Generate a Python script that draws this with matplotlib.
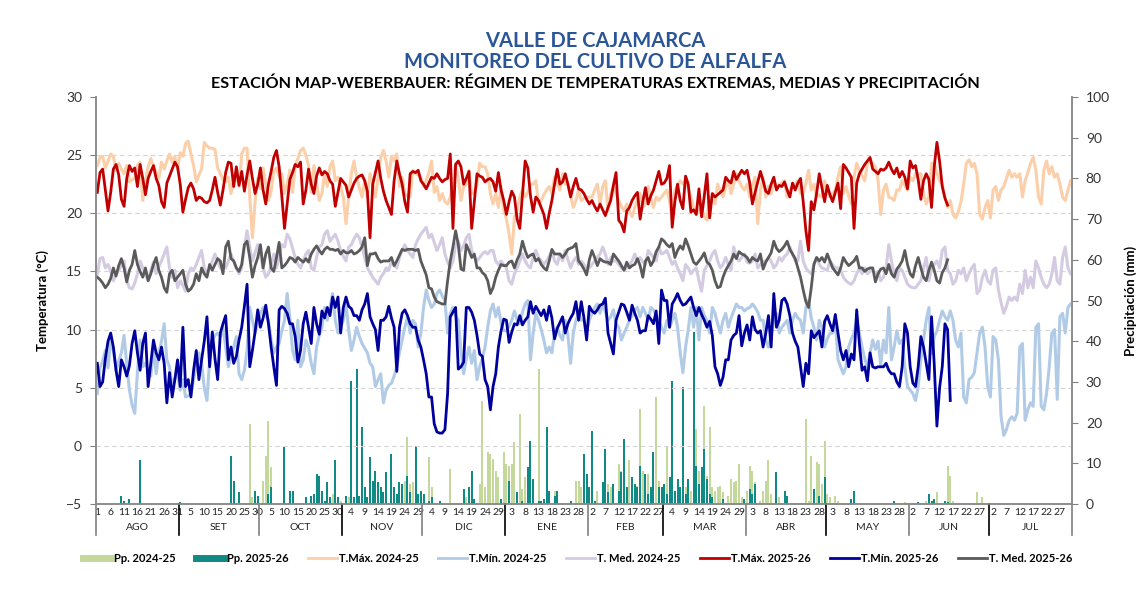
import matplotlib
matplotlib.use("Agg")
import matplotlib.pyplot as plt
import matplotlib.transforms as mtransforms
from matplotlib.lines import Line2D

plt.rcParams["font.family"] = ["Lato", "DejaVu Sans"]

months = ["AGO", "SET", "OCT", "NOV", "DIC", "ENE", "FEB", "MAR", "ABR", "MAY", "JUN", "JUL"]
month_days = [31, 30, 31, 30, 31, 31, 28, 31, 30, 31, 30, 31]

# daily values, 1 Aug -> 31 Jul
tmax_2425 = [
    24.1, 24.8, 24.9, 23.9, 24.5, 25.1, 24.9, 23.7, 24.3, 23.8, 23.4, 24.1, 22.7, 22.9, 23.0, 24.1, 24.4, 21.1, 22.7, 24.0, 24.7, 24.1, 23.5, 23.0, 24.4, 23.8, 24.5, 25.1, 24.4, 24.9, 23.8,
    25.2, 24.9, 26.0, 26.2, 25.1, 24.1, 22.7, 23.3, 23.8, 26.1, 25.8, 25.6, 25.6, 25.5, 23.9, 23.4, 22.9, 22.7, 23.1, 21.7, 22.9, 23.4, 22.3, 25.1, 25.6, 25.6, 21.5, 17.9, 21.0, 23.0,
    22.1, 23.9, 22.5, 21.1, 21.9, 23.6, 23.9, 23.1, 23.4, 21.7, 22.5, 23.7, 21.8, 24.1, 24.7, 25.4, 25.6, 25.0, 24.1, 21.8, 24.1, 22.5, 21.1, 21.7, 23.4, 22.3, 24.0, 24.5, 22.8, 23.1, 22.3,
    21.4, 19.1, 21.4, 23.4, 24.5, 23.1, 22.2, 21.4, 22.8, 21.4, 23.4, 22.5, 21.4, 23.1, 24.8, 25.4, 24.5, 23.1, 24.9, 24.5, 25.1, 22.3, 23.1, 21.7, 21.5, 21.4, 23.7, 23.4, 23.3, 23.1,
    22.3, 22.8, 23.5, 24.5, 21.8, 22.3, 21.1, 21.7, 21.0, 20.8, 21.4, 22.3, 24.3, 23.0, 21.1, 22.3, 22.5, 23.7, 21.7, 21.7, 22.5, 24.3, 24.0, 24.0, 23.4, 21.7, 20.8, 21.7, 20.5, 22.3, 20.3,
    19.5, 18.2, 16.5, 19.7, 20.3, 21.4, 22.0, 21.4, 21.8, 22.5, 22.5, 22.8, 20.8, 21.1, 21.6, 22.0, 22.3, 21.7, 23.1, 22.5, 22.0, 23.4, 22.5, 22.5, 21.5, 20.5, 21.1, 22.0, 21.1, 21.3, 21.4,
    21.4, 21.4, 22.0, 22.5, 20.8, 22.3, 22.8, 20.2, 21.7, 22.3, 21.7, 21.1, 20.6, 20.2, 20.8, 20.2, 19.7, 20.5, 21.2, 21.7, 20.5, 20.8, 22.3, 21.3, 20.5, 21.4, 21.1, 21.4,
    21.7, 22.0, 21.1, 19.4, 22.0, 22.4, 22.8, 22.5, 22.9, 22.2, 21.4, 20.5, 19.9, 20.2, 20.5, 19.7, 19.4, 21.4, 21.1, 20.8, 22.5, 22.0, 21.4, 22.2, 22.8, 21.7, 22.5, 23.4, 22.8, 22.3, 22.0,
    22.5, 21.4, 22.3, 23.1, 19.1, 22.0, 23.1, 21.4, 22.3, 21.7, 22.5, 22.3, 22.5, 22.6, 22.8, 21.4, 22.0, 22.3, 22.5, 22.8, 21.7, 21.7, 22.6, 23.7, 22.0, 22.5, 21.4, 21.6, 21.4, 22.8,
    22.0, 21.4, 21.7, 22.0, 23.1, 24.0, 21.7, 22.3, 21.5, 20.8, 23.1, 24.3, 23.7, 23.2, 22.8, 24.3, 24.5, 24.3, 24.0, 22.8, 19.9, 22.0, 22.5, 21.4, 21.3, 21.1, 22.0, 22.0, 22.8, 22.4, 22.0,
    23.1, 22.8, 23.4, 23.4, 23.4, 21.7, 20.8, 21.4, 24.3, 24.3, 23.5, 22.8, 22.5, 21.4, 20.5, 21.1, 19.9, 19.6, 20.1, 21.0, 22.5, 24.3, 24.6, 24.0, 24.3, 23.4, 19.9, 19.5, 20.5, 21.1,
    19.6, 22.0, 22.3, 21.1, 22.0, 22.3, 23.0, 23.7, 23.1, 23.4, 23.1, 23.4, 21.4, 22.8, 23.5, 24.3, 24.8, 23.7, 21.4, 20.8, 23.7, 24.5, 23.4, 24.0, 23.1, 23.4, 22.5, 21.4, 21.1, 22.0, 22.8,
]
tmin_2425 = [
    4.5, 6.7, 7.3, 8.2, 6.7, 9.1, 8.2, 6.5, 7.3, 8.0, 9.5, 7.0, 4.8, 3.5, 2.8, 6.3, 9.1, 6.8, 7.1, 6.5, 6.0, 8.5, 6.2, 8.0, 9.0, 10.5, 7.4, 6.8, 5.1, 5.8, 6.2,
    4.8, 5.7, 4.2, 4.3, 4.5, 5.7, 6.8, 8.0, 7.1, 5.0, 3.9, 7.4, 9.1, 9.5, 9.7, 9.4, 10.2, 8.5, 6.8, 7.6, 8.5, 9.4, 6.2, 5.7, 6.5, 8.2, 11.9, 10.8, 9.7, 10.5,
    11.4, 11.9, 11.2, 10.8, 9.1, 8.0, 8.5, 8.8, 9.9, 10.8, 13.1, 11.0, 8.2, 7.4, 10.8, 6.8, 7.4, 9.1, 8.5, 7.1, 6.2, 8.5, 9.5, 10.2, 11.9, 10.8, 11.9, 13.1, 10.8, 9.7, 10.2,
    10.8, 12.2, 10.0, 8.2, 9.1, 10.2, 9.4, 8.8, 8.4, 8.0, 7.1, 6.8, 5.1, 5.7, 6.2, 3.7, 4.8, 5.2, 5.4, 6.0, 6.8, 8.0, 9.1, 10.2, 11.1, 9.7, 10.8, 10.5, 8.5, 9.7,
    11.9, 13.4, 12.5, 11.9, 12.2, 13.1, 13.4, 12.9, 12.5, 9.7, 11.4, 11.9, 11.2, 10.8, 8.2, 6.2, 7.5, 8.5, 7.1, 8.2, 5.7, 6.8, 7.5, 8.5, 10.2, 11.6, 12.2, 11.1, 11.9, 10.5, 9.9,
    9.9, 10.3, 10.8, 11.6, 10.8, 10.5, 11.5, 12.2, 12.5, 7.4, 9.7, 11.4, 10.8, 10.0, 9.1, 8.0, 8.5, 8.0, 9.7, 10.2, 9.5, 9.1, 10.8, 9.5, 7.1, 9.7, 10.8, 11.4, 10.8, 10.8, 9.9,
    10.8, 11.4, 11.9, 12.2, 11.4, 12.2, 11.5, 10.8, 11.1, 11.7, 10.5, 10.2, 9.1, 9.7, 10.2, 10.8, 11.2, 11.7, 11.9, 11.1, 11.9, 11.4, 10.8, 11.9, 11.7, 11.2, 10.8, 10.2,
    9.7, 10.8, 10.2, 10.8, 11.4, 10.2, 8.0, 6.3, 8.5, 10.0, 11.9, 10.2, 11.9, 9.1, 11.9, 11.2, 10.8, 9.7, 11.9, 11.4, 10.5, 9.7, 10.8, 11.4, 10.2, 11.0, 11.6, 12.2, 11.9, 11.9, 11.6,
    11.8, 11.9, 12.2, 11.9, 11.5, 10.8, 10.8, 9.1, 8.5, 9.5, 10.8, 11.4, 9.7, 10.2, 10.5, 10.8, 9.7, 10.8, 11.4, 11.0, 10.8, 9.7, 11.9, 12.5, 11.0, 10.2, 9.1, 10.8, 10.2, 8.5,
    9.2, 9.7, 9.7, 10.8, 7.4, 6.8, 6.2, 6.8, 8.5, 9.2, 9.7, 10.8, 9.7, 8.5, 7.5, 6.8, 8.0, 9.1, 8.3, 9.0, 7.0, 9.1, 8.0, 11.9, 7.4, 8.5, 9.9, 8.8, 9.1, 6.8, 5.1,
    4.8, 4.5, 3.9, 5.1, 7.5, 9.1, 10.8, 11.9, 7.9, 9.4, 9.9, 10.8, 11.6, 11.1, 10.8, 11.6, 10.8, 9.1, 8.5, 9.7, 4.2, 3.7, 5.7, 5.9, 6.3, 8.0, 9.7, 10.2, 8.5, 5.1,
    4.2, 9.4, 9.1, 7.4, 2.5, 0.9, 1.4, 2.2, 2.5, 2.2, 2.8, 8.5, 8.8, 2.2, 3.1, 3.7, 3.4, 10.2, 10.5, 3.4, 3.1, 4.5, 6.8, 9.7, 10.0, 4.0, 11.1, 11.4, 9.7, 11.9, 12.2,
]
tmed_2425 = [
    14.8, 16.1, 16.2, 15.3, 15.6, 15.0, 14.2, 14.8, 15.1, 15.5, 15.9, 14.2, 13.6, 13.5, 14.0, 14.8, 15.9, 15.3, 14.8, 14.2, 15.1, 15.8, 14.8, 15.4, 15.9, 16.5, 17.1, 15.3, 14.5, 15.1, 13.6,
    14.2, 13.8, 13.3, 14.8, 15.3, 15.1, 15.6, 16.2, 16.8, 15.3, 14.8, 15.2, 15.9, 16.5, 15.9, 15.3, 15.3, 15.3, 15.9, 16.5, 15.9, 15.3, 14.8, 15.3, 17.1, 18.5, 17.1, 15.9, 16.6, 17.3,
    16.5, 15.3, 14.5, 14.8, 15.5, 16.5, 15.3, 16.3, 17.3, 17.1, 18.2, 17.8, 17.0, 16.2, 15.6, 15.3, 15.9, 16.5, 16.8, 15.3, 15.1, 16.2, 17.1, 17.3, 18.2, 18.5, 17.6, 17.9, 18.2, 17.6, 16.8,
    16.3, 15.9, 17.1, 17.3, 17.8, 18.2, 17.9, 17.1, 16.2, 15.3, 14.9, 14.5, 14.2, 13.9, 14.5, 14.8, 15.3, 15.1, 15.9, 15.5, 15.3, 16.2, 16.8, 17.3, 16.8, 16.5, 16.2, 17.3, 17.8, 18.2,
    18.5, 18.8, 17.9, 18.2, 17.5, 16.8, 17.3, 17.9, 16.5, 15.8, 15.3, 15.9, 17.3, 17.6, 16.8, 17.2, 17.9, 18.2, 16.8, 16.2, 15.9, 16.2, 16.5, 16.7, 16.5, 16.8, 16.8, 15.9, 15.6, 15.9, 15.6,
    15.3, 14.2, 13.9, 14.8, 15.3, 15.9, 16.5, 15.9, 15.5, 15.3, 16.2, 16.8, 16.2, 15.9, 15.6, 15.9, 16.3, 16.8, 15.9, 15.6, 16.5, 15.9, 16.8, 16.0, 15.3, 15.9, 16.2, 15.6, 15.9, 15.6, 15.3,
    15.3, 15.6, 15.9, 16.2, 16.5, 17.1, 16.5, 15.6, 16.2, 15.9, 15.9, 15.6, 15.3, 15.1, 15.3, 15.6, 15.9, 16.5, 15.9, 16.2, 15.8, 15.6, 16.8, 16.5, 16.2, 15.9, 17.1, 16.5,
    16.6, 16.8, 16.2, 15.6, 15.9, 15.3, 14.8, 14.2, 15.6, 15.3, 14.8, 15.1, 15.3, 14.2, 13.3, 15.1, 15.5, 15.9, 16.5, 16.8, 15.9, 15.3, 15.6, 16.2, 15.6, 15.1, 17.1, 16.2, 15.9, 16.2, 16.5,
    15.8, 15.7, 15.9, 16.5, 15.3, 15.6, 15.9, 15.9, 16.2, 15.9, 15.3, 15.6, 16.2, 15.9, 16.3, 16.5, 17.1, 16.5, 15.9, 15.9, 17.6, 15.9, 15.3, 15.0, 14.8, 15.6, 16.2, 15.6, 15.3, 15.2,
    15.1, 15.9, 15.6, 15.3, 15.3, 15.1, 14.5, 14.2, 14.0, 13.9, 14.2, 14.8, 15.3, 14.8, 15.3, 14.8, 15.0, 15.1, 14.8, 15.0, 14.2, 14.5, 15.3, 17.3, 15.9, 14.8, 14.2, 15.3, 15.1, 14.5, 13.9,
    13.7, 13.6, 13.6, 13.9, 14.2, 15.3, 16.2, 14.2, 15.3, 15.6, 15.9, 15.3, 16.8, 17.1, 15.1, 14.8, 13.9, 14.2, 15.1, 14.8, 15.3, 14.2, 14.8, 15.3, 15.6, 13.1, 13.4, 14.5, 15.1, 14.2,
    13.9, 15.1, 15.3, 13.4, 12.3, 11.4, 12.0, 12.8, 12.5, 12.8, 12.5, 13.9, 13.1, 15.1, 13.6, 14.5, 13.6, 15.9, 15.3, 14.5, 13.9, 13.6, 13.9, 14.8, 16.2, 14.2, 13.9, 16.2, 17.1, 15.3, 14.8,
]
tmax_2526 = [
    21.8, 23.5, 23.8, 22.0, 20.2, 21.8, 23.8, 24.2, 23.3, 21.2, 20.6, 23.0, 24.1, 23.6, 23.9, 22.3, 24.2, 23.0, 21.6, 23.0, 23.6, 24.1, 23.0, 22.4, 21.0, 20.5, 22.6, 23.2, 23.8, 24.4, 24.0,
    22.5, 20.1, 21.2, 22.2, 22.6, 22.1, 21.1, 21.4, 21.3, 21.0, 20.9, 21.1, 22.0, 23.1, 21.8, 20.7, 22.0, 23.5, 24.4, 24.3, 22.3, 24.0, 22.4, 23.6, 21.9, 23.3, 24.5, 23.0, 21.7, 22.5,
    23.9, 22.0, 20.8, 22.5, 23.6, 24.8, 25.4, 24.0, 21.5, 18.7, 20.8, 22.9, 23.5, 24.2, 24.0, 24.4, 20.8, 22.0, 23.8, 22.5, 21.7, 23.2, 23.9, 23.3, 23.6, 23.4, 22.8, 22.5, 20.6, 21.8, 23.0,
    22.7, 22.4, 21.4, 22.0, 22.6, 23.0, 23.2, 23.3, 22.8, 21.9, 17.9, 22.5, 23.5, 24.5, 23.0, 21.9, 21.1, 20.5, 19.9, 22.8, 24.5, 23.4, 22.5, 21.0, 20.1, 23.4, 23.6, 23.5, 23.7, 22.8,
    22.5, 22.1, 22.6, 23.1, 23.0, 23.4, 23.0, 22.7, 22.9, 23.0, 25.1, 18.7, 24.2, 24.5, 24.0, 22.5, 23.0, 23.6, 18.7, 21.0, 23.4, 23.2, 23.1, 22.7, 22.9, 23.0, 22.7, 21.9, 23.5, 22.0, 21.1,
    19.9, 21.0, 21.9, 21.4, 19.5, 18.7, 21.6, 24.5, 23.9, 21.5, 20.1, 21.4, 21.1, 20.5, 19.9, 18.7, 20.0, 21.1, 22.5, 23.8, 22.5, 22.7, 23.4, 22.5, 21.4, 22.3, 23.0, 22.1, 22.0, 21.7, 21.2,
    20.8, 21.1, 20.6, 20.2, 20.8, 20.3, 19.8, 20.5, 21.1, 22.4, 23.5, 19.4, 19.1, 18.4, 20.2, 20.5, 21.1, 21.5, 21.8, 19.5, 21.0, 22.2, 20.8, 21.5, 22.0, 22.8, 23.6, 22.5,
    22.6, 23.0, 24.1, 18.8, 21.0, 22.5, 21.1, 20.4, 23.2, 22.5, 20.1, 20.3, 19.9, 22.1, 19.7, 21.5, 23.4, 19.6, 21.7, 21.4, 21.6, 21.8, 22.0, 23.1, 22.8, 22.6, 23.6, 22.9, 23.3, 23.7, 23.4,
    23.7, 22.6, 20.8, 21.8, 22.7, 23.6, 22.8, 21.9, 21.7, 22.5, 23.1, 22.0, 22.4, 22.3, 22.7, 22.0, 21.4, 22.6, 22.0, 22.6, 23.0, 21.0, 18.5, 16.8, 21.0, 20.3, 21.7, 23.4, 22.2, 21.0,
    22.4, 21.6, 21.0, 21.8, 22.6, 20.4, 24.2, 23.9, 23.5, 23.1, 18.7, 22.6, 23.4, 23.8, 24.2, 24.5, 24.8, 23.8, 23.6, 23.4, 23.8, 23.7, 23.9, 24.4, 23.8, 23.4, 23.9, 23.1, 23.6, 23.1, 22.1,
    24.5, 23.9, 24.1, 22.9, 21.2, 22.8, 23.4, 22.9, 20.5, 24.0, 26.1, 24.5, 22.3, 21.3, 20.7,
]
tmin_2526 = [
    7.1, 5.1, 5.5, 7.5, 9.0, 9.7, 8.5, 6.5, 5.1, 7.4, 6.8, 6.0, 6.9, 8.8, 9.9, 8.0, 6.5, 8.8, 9.7, 5.1, 7.1, 9.1, 8.0, 7.4, 8.5, 7.1, 3.7, 6.3, 4.2, 5.7, 7.4,
    5.1, 10.2, 5.1, 5.7, 4.2, 6.5, 8.2, 5.7, 7.4, 9.0, 11.1, 6.8, 9.8, 7.5, 5.7, 9.7, 10.5, 11.2, 7.4, 8.5, 7.1, 7.7, 9.1, 10.2, 12.0, 13.9, 6.8, 8.2, 9.8, 11.7,
    10.2, 11.0, 12.1, 10.5, 8.5, 6.8, 5.2, 11.7, 12.0, 11.8, 11.4, 10.5, 10.5, 9.4, 7.2, 8.2, 10.5, 11.5, 10.2, 8.8, 11.9, 10.5, 9.6, 11.6, 11.0, 11.9, 11.2, 12.8, 11.9, 12.8, 9.7,
    11.9, 12.8, 12.0, 11.8, 11.2, 11.2, 10.8, 11.7, 12.2, 13.1, 11.1, 10.5, 10.0, 8.2, 10.8, 10.8, 11.1, 12.0, 11.0, 10.2, 6.4, 10.2, 11.4, 11.7, 11.2, 10.5, 10.2, 10.2, 9.1, 8.5,
    7.4, 6.2, 4.2, 4.2, 1.9, 1.2, 1.1, 1.1, 1.4, 4.5, 11.1, 11.5, 11.9, 6.6, 6.8, 7.2, 11.9, 11.9, 11.5, 10.8, 9.5, 7.9, 7.7, 5.7, 5.1, 3.1, 5.1, 6.2, 8.5, 9.9, 10.9,
    10.8, 8.9, 9.8, 10.5, 10.4, 11.2, 10.4, 10.8, 11.1, 12.4, 11.4, 12.0, 11.6, 11.2, 11.7, 10.8, 12.0, 11.0, 9.2, 10.1, 10.6, 11.1, 9.7, 10.5, 11.0, 11.4, 12.4, 10.8, 12.4, 11.0, 9.1,
    12.0, 11.6, 11.4, 11.7, 12.1, 12.2, 12.7, 9.7, 8.8, 7.9, 10.8, 11.5, 12.2, 12.1, 11.5, 10.8, 12.1, 11.4, 10.8, 9.7, 9.9, 9.9, 11.2, 10.9, 10.5, 11.6, 8.8, 13.4,
    12.5, 12.5, 10.2, 12.2, 12.6, 13.1, 12.5, 12.1, 12.2, 12.5, 12.8, 11.9, 11.2, 11.9, 11.3, 10.8, 10.2, 10.7, 9.5, 6.8, 6.2, 5.2, 5.9, 7.4, 7.4, 9.1, 9.5, 9.7, 11.2, 8.6, 9.7,
    10.4, 9.1, 11.1, 10.0, 9.7, 9.9, 8.5, 9.7, 11.2, 8.5, 13.1, 10.2, 10.8, 12.5, 12.7, 12.2, 11.2, 9.7, 9.0, 8.5, 6.8, 5.1, 7.1, 6.2, 9.9, 9.3, 9.6, 9.9, 8.5, 10.7,
    11.2, 10.5, 9.9, 11.3, 9.7, 8.2, 7.4, 8.2, 6.8, 7.9, 7.4, 11.7, 8.8, 6.5, 6.8, 5.6, 8.0, 6.8, 6.7, 6.8, 6.8, 6.8, 7.1, 6.5, 6.2, 6.2, 5.5, 5.1, 6.8, 10.5, 9.7,
    6.8, 5.4, 5.1, 6.8, 9.4, 8.5, 7.1, 5.7, 11.1, 7.0, 1.7, 5.0, 6.8, 10.5, 10.0, 3.9,
]
tmed_2526 = [
    14.5, 14.3, 14.0, 13.6, 13.9, 14.4, 15.3, 14.6, 15.5, 16.1, 15.3, 14.1, 15.1, 15.6, 16.8, 15.6, 15.0, 14.5, 15.3, 14.2, 14.8, 15.6, 16.2, 15.1, 14.5, 13.6, 13.2, 14.8, 15.1, 14.2, 14.5,
    14.8, 15.1, 13.9, 13.3, 13.5, 13.9, 14.8, 14.2, 15.3, 14.8, 14.5, 15.6, 15.1, 15.6, 16.1, 15.9, 14.8, 17.1, 17.6, 16.1, 15.9, 15.3, 15.0, 15.6, 17.3, 17.6, 16.2, 14.5, 15.5, 16.2,
    17.3, 15.3, 16.5, 17.1, 15.3, 15.0, 16.2, 17.5, 15.3, 15.5, 15.8, 16.2, 16.1, 15.8, 16.2, 16.0, 15.8, 16.1, 15.8, 16.5, 16.9, 17.2, 16.8, 16.5, 16.9, 17.1, 16.9, 16.9, 16.8, 16.9, 16.5,
    16.8, 16.6, 16.6, 16.8, 16.5, 16.6, 16.8, 17.1, 17.9, 15.5, 16.5, 16.5, 16.6, 16.1, 15.8, 15.9, 15.9, 15.9, 16.2, 15.5, 15.9, 16.4, 16.9, 16.8, 16.9, 16.9, 16.9, 16.8, 16.9, 15.9,
    15.3, 14.7, 13.6, 13.5, 12.8, 12.4, 12.3, 12.2, 12.2, 14.2, 15.9, 17.1, 18.5, 17.3, 15.2, 15.1, 17.3, 16.8, 16.2, 16.5, 15.3, 15.3, 14.9, 14.7, 14.2, 13.1, 13.6, 14.5, 15.1, 15.6, 15.5,
    15.5, 15.8, 15.9, 15.3, 16.0, 16.5, 17.6, 16.8, 16.2, 16.4, 16.5, 15.9, 16.1, 15.6, 15.3, 15.1, 15.9, 16.9, 16.5, 16.5, 16.5, 16.2, 16.5, 16.9, 17.0, 17.1, 17.4, 15.9, 15.6, 15.2, 14.7,
    16.0, 16.8, 16.2, 15.5, 16.1, 15.9, 15.8, 15.8, 15.6, 16.5, 16.2, 15.9, 15.5, 15.1, 15.8, 15.3, 15.5, 15.6, 16.1, 15.5, 14.5, 15.9, 16.2, 15.5, 15.9, 16.7, 17.1, 17.8,
    17.6, 17.3, 17.1, 17.4, 16.2, 16.8, 17.2, 16.9, 17.8, 17.2, 16.5, 15.8, 15.6, 15.9, 16.2, 16.6, 15.8, 15.6, 15.1, 14.2, 13.6, 13.7, 14.5, 15.1, 15.5, 15.9, 16.5, 16.1, 16.7, 16.5, 16.4,
    16.2, 15.8, 16.2, 16.0, 15.9, 16.5, 15.2, 15.8, 16.2, 16.6, 17.6, 17.0, 16.7, 16.9, 17.2, 17.6, 16.9, 16.5, 16.1, 15.3, 14.5, 13.4, 12.4, 11.9, 13.6, 15.6, 16.2, 15.9, 16.2, 15.8,
    16.5, 15.9, 15.3, 15.0, 14.7, 15.3, 16.2, 15.8, 15.5, 15.7, 15.9, 16.3, 15.3, 15.3, 15.0, 15.2, 15.3, 15.3, 14.1, 14.8, 15.2, 15.3, 14.8, 15.6, 14.8, 14.5, 15.2, 15.5, 15.9, 16.8, 15.6,
    14.8, 14.5, 15.5, 16.2, 15.3, 14.5, 14.2, 15.1, 15.8, 15.1, 14.2, 14.0, 14.9, 15.3, 16.0,
]

# precipitation (mm): day index from 1 Aug and value
pp_2425_day = [57, 58, 59, 62, 63, 64, 65, 72, 83, 86, 88, 91, 94, 101, 115, 116, 117, 118, 119, 124, 125, 132, 138, 140, 143, 144, 145,
               146, 147, 148, 149, 150, 152, 153, 154, 155, 156, 157, 158, 159, 160, 165, 166, 168, 171, 179, 180, 181, 185, 187, 189, 190,
               191, 192, 195, 196, 199, 202, 203, 204, 206, 207, 209, 210, 213, 214, 217, 220, 222, 224, 225, 226, 227, 228, 229, 230, 231,
               232, 233, 234, 236, 237, 238, 239, 240, 241, 243, 244, 245, 246, 248, 249, 250, 251, 252, 255, 265, 266, 267, 268, 269, 270,
               271, 272, 273, 274, 276, 277, 302, 310, 314, 318, 319, 320, 329, 331]
pp_2425_mm = [19.7, 1.6, 2.5, 5.7, 11.9, 20.5, 9.0, 2.5, 5.3, 2.9, 2.5, 0.8, 1.6, 1.6, 5.7, 16.4, 4.9, 5.3, 5.3, 11.5, 4.1, 8.6, 1.6, 6.6, 4.9, 25.4, 4.1,
              12.7, 12.3, 11.1, 8.2, 6.6, 12.7, 9.8, 9.4, 9.8, 15.2, 2.5, 22.1, 3.7, 6.6, 33.2, 0.8, 1.6, 3.3, 5.7, 5.7, 4.1, 3.3, 3.3, 4.9, 13.1,
              4.9, 4.1, 9.8, 8.2, 10.7, 4.5, 23.4, 8.2, 7.4, 4.1, 26.2, 5.7, 14.3, 3.7, 0.8, 4.1, 3.3, 18.4, 8.2, 7.4, 24.2, 7.0, 18.9, 4.1, 3.3,
              4.1, 4.5, 2.9, 2.0, 6.1, 5.3, 5.7, 9.8, 1.6, 3.3, 9.4, 8.2, 5.3, 0.8, 3.3, 5.7, 10.7, 2.5, 1.6, 20.9, 0.8, 11.9, 3.3, 10.2, 9.8,
              4.9, 15.6, 2.5, 1.6, 2.0, 0.8, 0.4, 0.8, 2.9, 9.4, 7.0, 0.8, 2.9, 1.6]
pp_2526_day = [9, 10, 12, 16, 31, 50, 51, 53, 59, 60, 64, 65, 70, 72, 73, 78, 80, 81, 82, 83, 84, 85, 86, 87, 89, 90, 93, 95, 96, 97, 98,
               99, 100, 101, 102, 103, 104, 105, 106, 107, 108, 110, 111, 112, 113, 114, 116, 117, 119, 120, 121, 122, 124, 125, 128, 137,
               139, 140, 141, 151, 154, 157, 159, 161, 162, 163, 165, 166, 167, 168, 169, 171, 172, 177, 182, 183, 184, 185, 186, 189, 190,
               191, 193, 195, 196, 197, 198, 200, 201, 202, 203, 205, 206, 207, 208, 210, 211, 212, 213, 214, 215, 216, 217, 218, 219, 220,
               221, 223, 224, 225, 226, 227, 228, 229, 230, 234, 242, 244, 245, 246, 254, 257, 258, 268, 270, 272, 282, 283, 298, 307, 311,
               312, 313, 317, 318]
pp_2526_mm = [2.0, 0.8, 1.2, 10.7, 0.4, 11.9, 5.7, 2.9, 3.3, 2.0, 2.5, 4.1, 13.9, 3.3, 3.3, 1.6, 2.0, 2.5, 7.4, 7.0, 3.3, 0.8, 5.3, 1.6, 10.7, 1.6, 2.0, 30.3, 1.6, 33.2, 2.0,
              18.9, 4.1, 1.6, 11.5, 5.7, 8.2, 5.3, 4.1, 2.9, 7.8, 12.3, 4.1, 2.5, 5.3, 4.9, 7.0, 2.9, 14.3, 2.5, 3.3, 2.5, 0.8, 1.6, 0.8, 3.7,
              4.1, 8.2, 1.2, 1.2, 5.7, 2.9, 0.8, 9.0, 15.6, 6.1, 0.8, 0.8, 1.2, 18.9, 3.3, 2.0, 3.3, 0.8, 12.3, 7.4, 4.1, 18.0, 0.8, 5.3, 13.5,
              2.9, 4.9, 3.3, 7.8, 16.0, 4.1, 6.6, 4.9, 4.1, 9.4, 7.4, 2.5, 4.1, 12.7, 4.1, 4.1, 4.9, 2.5, 6.6, 30.3, 3.3, 6.1, 4.1, 28.7, 2.5,
              6.1, 42.2, 9.4, 4.9, 9.0, 13.5, 6.1, 2.5, 1.6, 1.2, 1.2, 3.7, 2.5, 4.9, 7.8, 3.3, 2.0, 3.7, 2.0, 6.6, 1.2, 3.3, 0.8, 0.4, 2.5,
              0.8, 1.2, 0.8, 0.4]

fig = plt.figure(figsize=(11.4, 5.94), dpi=100)
ax = fig.add_axes([0.0842, 0.1515, 0.8561, 0.6852])
ax2 = ax.twinx()

# bars behind the temperature lines
ax.set_zorder(ax2.get_zorder() + 1)
ax.patch.set_visible(False)

ax2.bar(pp_2425_day, pp_2425_mm, width=0.75, color="#c4d89c", zorder=2)
ax2.bar(pp_2526_day, pp_2526_mm, width=0.75, color="#108a84", zorder=3)

ax.plot(range(len(tmax_2425)), tmax_2425, color="#fbcfa9", lw=2.2)
ax.plot(range(len(tmin_2425)), tmin_2425, color="#b1cbe6", lw=2.2)
ax.plot(range(len(tmed_2425)), tmed_2425, color="#d4cbe2", lw=2.2)
ax.plot(range(len(tmax_2526)), tmax_2526, color="#c00000", lw=2.0)
ax.plot(range(len(tmin_2526)), tmin_2526, color="#00009c", lw=2.0)
ax.plot(range(len(tmed_2526)), tmed_2526, color="#5a5a5a", lw=2.0)

ax.set_xlim(-0.5, 364.5)
ax.set_ylim(-5, 30)
ax.set_yticks(range(-5, 31, 5))
ax2.set_ylim(0, 100)
ax2.set_yticks(range(0, 101, 10))
for y in range(0, 30, 5):
    ax.axhline(y, color="#d4d4d4", lw=0.8, ls=(0, (4, 3)), zorder=0)

# day-of-month labels every 5 days
dom = []
for n in month_days:
    dom += list(range(1, n + 1))
ax.set_xticks(range(0, 365, 5))
ax.set_xticklabels([str(dom[i]) for i in range(0, 365, 5)], fontsize=7.5, color="#222222")
ax.tick_params(axis="x", length=0, pad=3)
ax.tick_params(axis="y", length=4, color="#808080", labelsize=10, labelcolor="#333333", pad=6)
ax2.tick_params(axis="y", length=4, color="#808080", labelsize=10, labelcolor="#333333", pad=6)

for a in (ax, ax2):
    a.spines["top"].set_visible(False)
    for s in ("left", "right", "bottom"):
        a.spines[s].set_color("#8c8c8c")
        a.spines[s].set_linewidth(1.2)

# month labels and separators under the axis
trans = mtransforms.blended_transform_factory(ax.transData, ax.transAxes)
start = 0
for i, (m, n) in enumerate(zip(months, month_days)):
    ax.text(start + n / 2 - 0.5, -0.058, m, transform=trans, ha="center", va="center", fontsize=7.5, color="#222222")
    ax.plot([start - 0.5, start - 0.5], [0, -0.075], transform=trans, clip_on=False,
            color="#808080" if i % 2 == 0 else "black", lw=1.2)
    start += n
ax.plot([start - 0.5, start - 0.5], [0, -0.075], transform=trans, clip_on=False, color="#808080", lw=1.2)

ax.set_ylabel("Temperatura (°C)", fontsize=9.5, fontweight="bold", labelpad=12)
ax2.set_ylabel("Precipitación (mm)", fontsize=9.5, fontweight="bold", labelpad=10)

title_color = "#2a5597"
fig.text(0.522, 0.931, "VALLE DE CAJAMARCA", ha="center", va="center", fontsize=14.5, fontweight="bold", color=title_color)
fig.text(0.522, 0.896, "MONITOREO DEL CULTIVO DE ALFALFA", ha="center", va="center", fontsize=14.5, fontweight="bold", color=title_color)
fig.text(0.522, 0.861, "ESTACIÓN MAP-WEBERBAUER: RÉGIMEN DE TEMPERATURAS EXTREMAS, MEDIAS Y PRECIPITACIÓN",
         ha="center", va="center", fontsize=11.6, fontweight="bold", color="black")

handles = [
    Line2D([], [], color="#c4d89c", lw=5),
    Line2D([], [], color="#108a84", lw=5),
    Line2D([], [], color="#fbcfa9", lw=2),
    Line2D([], [], color="#b1cbe6", lw=2),
    Line2D([], [], color="#d4cbe2", lw=2),
    Line2D([], [], color="#c00000", lw=2),
    Line2D([], [], color="#00009c", lw=2),
    Line2D([], [], color="#5a5a5a", lw=2),
]
labels = ["Pp. 2024-25", "Pp. 2025-26", "T.Máx. 2024-25", "T.Mín. 2024-25", "T. Med. 2024-25",
          "T.Máx. 2025-26", "T.Mín. 2025-26", "T. Med. 2025-26"]
fig.legend(handles, labels, loc="center", bbox_to_anchor=(0.507, 0.06), ncol=8, frameon=False,
           prop={"size": 8, "weight": "bold"}, handlelength=2.6, handletextpad=0.2, columnspacing=1.75)

fig.savefig("out.png", dpi=100)
